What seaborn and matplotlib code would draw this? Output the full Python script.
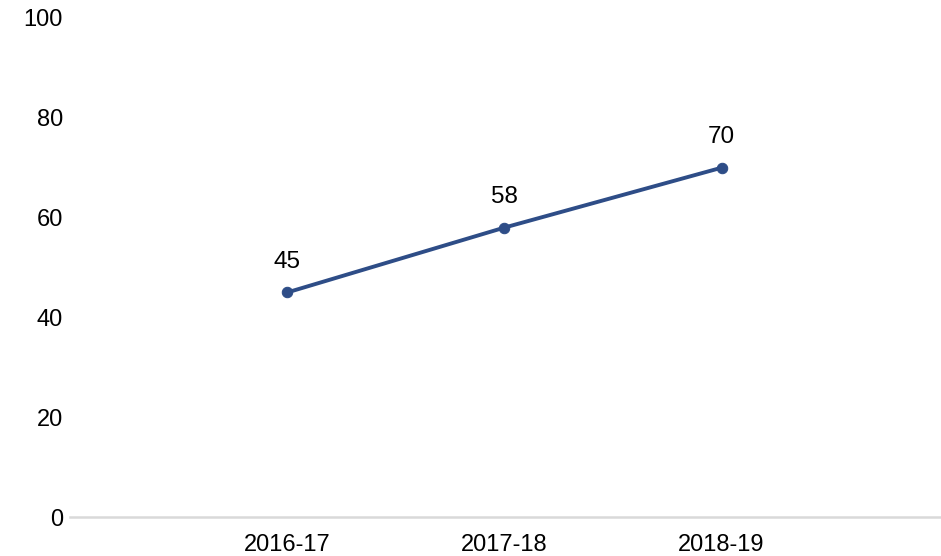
import matplotlib.pyplot as plt
import seaborn as sns
import pandas as pd

# Veriler
yillar = ["2016-17", "2017-18", "2018-19"]
degerler = [45, 58, 70]

df = pd.DataFrame({"yil": yillar, "deger": degerler})

sns.set_style("white")
plt.rcParams["font.family"] = ["Liberation Sans", "DejaVu Sans"]

fig = plt.figure(figsize=(9.41, 5.56), dpi=100)
ax = fig.add_axes([70 / 941, 39 / 556, 871 / 941, 499 / 556])

renk = "#2E4D87"
sns.lineplot(data=df, x="yil", y="deger", ax=ax, color=renk, linewidth=2.8,
             marker="o", markersize=7.5, markeredgecolor=renk, sort=False)

for i, (yil, deger) in enumerate(zip(yillar, degerler)):
    ax.annotate(str(deger), (i, deger), xytext=(0, 22), textcoords="offset points",
                ha="center", va="center", fontsize=17.5, color="black")

ax.set_xlim(-1, 3.01)
ax.set_ylim(0, 100)
ax.set_yticks([0, 20, 40, 60, 80, 100])
ax.set_xlabel("")
ax.set_ylabel("")
ax.tick_params(axis="both", length=0, labelsize=17, colors="black")
ax.tick_params(axis="y", pad=5)
ax.tick_params(axis="x", pad=12)

for s in ["top", "right", "left"]:
    ax.spines[s].set_visible(False)
ax.spines["bottom"].set_color("#d9d9d9")
ax.spines["bottom"].set_linewidth(1.8)

fig.savefig("out.png", dpi=100)
